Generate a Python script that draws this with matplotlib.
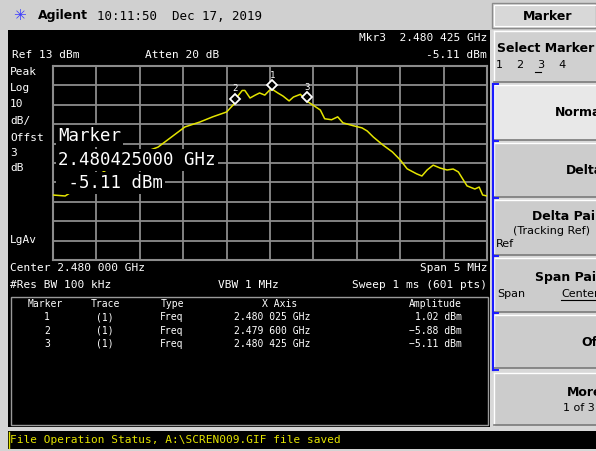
import matplotlib
matplotlib.use("Agg")
import matplotlib.pyplot as plt
import matplotlib.patches as mpatches
from matplotlib.transforms import offset_copy

# trace readout: offset from 2.480 GHz centre (MHz) and level (dBm)
freq_mhz = [-2.50, -2.36, -2.15, -1.90, -1.60, -1.29, -1.15, -0.98, -0.81, -0.66,
            -0.50, -0.40, -0.38, -0.32, -0.29, -0.23, -0.17, -0.12, -0.06, -0.01,
            0.025, 0.09, 0.15, 0.22, 0.27, 0.35, 0.425, 0.50, 0.58, 0.63,
            0.71, 0.78, 0.84, 0.96, 1.06, 1.12, 1.19, 1.30, 1.41, 1.50,
            1.58, 1.69, 1.75, 1.81, 1.88, 1.96, 2.04, 2.11, 2.17, 2.27,
            2.36, 2.41, 2.45, 2.50]
level_dbm = [-53.5, -54.0, -48.0, -41.0, -34.0, -28.8, -24.1, -18.4, -15.9, -13.2,
             -10.7, -5.88, -3.0, 0.4, 0.4, -3.5, -2.0, -0.9, -2.0, 0.3,
             1.02, -0.9, -2.5, -5.0, -3.0, -1.6, -5.11, -7.3, -9.7, -14.2,
             -14.7, -13.2, -16.3, -17.8, -18.9, -20.5, -23.6, -27.7, -31.3, -35.4,
             -40.0, -42.6, -43.7, -40.6, -38.1, -39.6, -40.6, -40.1, -41.6, -48.8,
             -50.4, -49.4, -53.5, -54.0]

marker_ids = ["1", "2", "3"]
marker_freq_mhz = [0.025, -0.40, 0.425]
marker_dbm = [1.02, -5.88, -5.11]
marker_xaxis = ["2.480 025 GHz", "2.479 600 GHz", "2.480 425 GHz"]

ref_level = 13
db_per_div = 10
span_mhz = 5

W, H = 596, 451
MONO = "DejaVu Sans Mono"
SANS = "DejaVu Sans"
YEL = "#e4e400"
GRID = "#8c8c8c"

fig = plt.figure(figsize=(W / 100, H / 100), dpi=100)
fig.patch.set_facecolor("#d4d4d4")


def px_axes(z):
    a = fig.add_axes([0, 0, 1, 1], zorder=z)
    a.set_xlim(0, W)
    a.set_ylim(H, 0)
    a.axis("off")
    a.patch.set_alpha(0)
    return a


bg = px_axes(0)
top = px_axes(3)


def rect(ax, x0, y0, x1, y1, **kw):
    ax.add_patch(mpatches.Rectangle((x0, y0), x1 - x0, y1 - y0, **kw))


# instrument chrome
rect(bg, 0, 0, W, 30, color="#d0d0d0", lw=0)
rect(bg, 8, 30, 490, 427, color="black", lw=0)
rect(bg, 8, 431, W, 449, color="black", lw=0)
bg.plot([9, 9], [432, 448], color=YEL, lw=1)

# right softkey panel
rect(bg, 490, 0, W, 451, color="#d8d8d8", lw=0, zorder=0.5)
rect(bg, 492, 3, W, 28, facecolor="#d8d8d8", edgecolor="#8a8a8a", lw=1)
rect(bg, 494, 5, W, 26, facecolor="none", edgecolor="white", lw=0.8)
rect(bg, 490, 431, W, 449, color="black", lw=0)

buttons = [(31, 82, "#d0d0d0"), (85, 140, "#e8e8e8"), (143, 197, "#cccccc"),
           (200, 255, "#cccccc"), (258, 312, "#cccccc"), (315, 368, "#cccccc"),
           (373, 425, "#cccccc")]
for y0, y1, c in buttons:
    rect(bg, 494, y0, W + 2, y1, facecolor=c, edgecolor="none")
    bg.plot([494, W], [y0, y0], color="white", lw=1)
    bg.plot([494, 494], [y0, y1], color="white", lw=1)
    bg.plot([494, W], [y1, y1], color="#7a7a7a", lw=1.2)
bg.plot([493, 493], [84, 370], color="#1a1aff", lw=1.6, zorder=3)
for yy in [84, 141, 198, 256, 313, 370]:
    bg.plot([493, 498], [yy, yy], color="#1a1aff", lw=1.4, zorder=3)

# graticule and trace
gx0, gy0, gx1, gy1 = 53, 66, 487, 260
ax = fig.add_axes([gx0 / W, 1 - gy1 / H, (gx1 - gx0) / W, (gy1 - gy0) / H], zorder=1)
ax.set_facecolor("black")
ax.set_xlim(-span_mhz / 2, span_mhz / 2)
ax.set_ylim(ref_level - 10 * db_per_div, ref_level)
for i in range(1, 10):
    ax.axvline(-span_mhz / 2 + i * span_mhz / 10, color=GRID, lw=1.3)
    ax.axhline(ref_level - i * db_per_div, color=GRID, lw=1.3)
for s in ax.spines.values():
    s.set_color(GRID)
    s.set_linewidth(1.5)
ax.set_xticks([])
ax.set_yticks([])
ax.plot(freq_mhz, level_dbm, color=YEL, lw=1.1, zorder=3)

up4 = offset_copy(ax.transData, fig=fig, y=4, units="dots")
up13 = offset_copy(ax.transData, fig=fig, y=14, units="dots")
ax.plot(marker_freq_mhz, marker_dbm, linestyle="none", marker="D", ms=5.5,
        mfc="black", mec="white", mew=1.3, transform=up4, zorder=4, clip_on=False)
for mid, f, a in zip(marker_ids, marker_freq_mhz, marker_dbm):
    ax.text(f, a, mid, color="white", fontsize=6.5, family=MONO,
            ha="center", va="center", transform=up13, zorder=4, clip_on=False)

# title bar
top.text(20, 16, "\u2733", color="#3a3aff", fontsize=11, ha="center", va="center")
top.text(38, 16, "Agilent", color="black", fontsize=9, weight="bold",
         family=SANS, va="center")
top.text(97, 16, "10:11:50  Dec 17, 2019", color="black", fontsize=9,
         family=MONO, va="center")

wt = dict(color="white", family=MONO, fontsize=8, va="center")
top.text(12, 55, "Ref 13 dBm", **wt)
top.text(145, 55, "Atten 20 dB", **wt)
top.text(487, 38, "Mkr3  2.480 425 GHz", ha="right", **wt)
top.text(487, 55, "-5.11 dBm", ha="right", **wt)
for lbl, yy in [("Peak", 72), ("Log", 88), ("10", 104), ("dB/", 121),
                ("Offst", 138), ("3", 153), ("dB", 168), ("LgAv", 240)]:
    top.text(10, yy, lbl, **wt)
top.text(10, 268, "Center 2.480 000 GHz", **wt)
top.text(487, 268, "Span 5 MHz", ha="right", **wt)
top.text(10, 285, "#Res BW 100 kHz", **wt)
top.text(218, 285, "VBW 1 MHz", **wt)
top.text(487, 285, "Sweep 1 ms (601 pts)", ha="right", **wt)

# active marker readout over the trace
big = dict(color="white", family=MONO, fontsize=12.5, va="center",
           bbox=dict(facecolor="black", edgecolor="none", pad=1.5))
top.text(58, 136, "Marker", **big)
top.text(58, 160, "2.480425000 GHz", **big)
top.text(58, 183, " -5.11 dBm", **big)

# marker table
rect(top, 11, 297, 488, 425, facecolor="none", edgecolor="#9a9a9a", lw=1)
tt = dict(color="white", family=MONO, fontsize=7, va="center")
top.text(45, 304, "Marker", ha="center", **tt)
top.text(105, 304, "Trace", ha="center", **tt)
top.text(172, 304, "Type", ha="center", **tt)
top.text(280, 304, "X Axis", ha="center", **tt)
top.text(462, 304, "Amplitude", ha="right", **tt)
for i, (mid, xs, a) in enumerate(zip(marker_ids, marker_xaxis, marker_dbm)):
    yy = 317 + 13.5 * i
    top.text(47, yy, mid, ha="center", **tt)
    top.text(105, yy, "(1)", ha="center", **tt)
    top.text(172, yy, "Freq", ha="center", **tt)
    top.text(272, yy, xs, ha="center", **tt)
    top.text(462, yy, f"{a:.2f} dBm".replace("-", "\u2212"), ha="right", **tt)

top.text(10, 440, "File Operation Status, A:\\SCREN009.GIF file saved",
         color=YEL, family=MONO, fontsize=8, va="center")

# softkey labels, cut by the panel edge as on the instrument screen
kb = dict(color="black", family=SANS, fontsize=9, weight="bold", va="center")
kn = dict(color="black", family=SANS, fontsize=8, va="center")
top.text(548, 16, "Marker", ha="center", **kb)
top.text(497, 48, "Select Marker", **kb)
top.text(496, 65, "1    2    3    4", **kn)
top.plot([535, 541], [72, 72], color="black", lw=0.8)
top.text(555, 113, "Normal", **kb)
top.text(566, 170, "Delta", **kb)
top.text(532, 216, "Delta Pair", **kb)
top.text(513, 231, "(Tracking Ref)", **kn)
top.text(496, 244, "Ref", **kn)
top.text(535, 278, "Span Pair", **kb)
top.text(497, 294, "Span", **kn)
top.text(561, 294, "Center", **kn)
top.plot([561, 596], [300, 300], color="black", lw=0.8)
top.text(581, 342, "Off", **kb)
top.text(567, 392, "More", **kb)
top.text(563, 408, "1 of 3", **kn)

fig.savefig("out.png", dpi=100, facecolor=fig.get_facecolor())
